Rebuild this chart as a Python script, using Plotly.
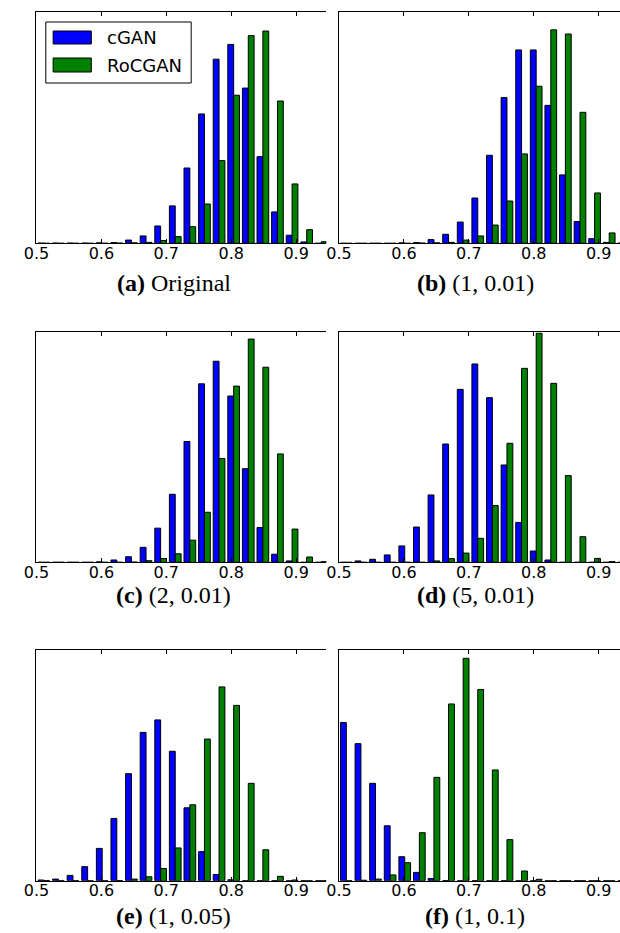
import plotly.graph_objects as go

# ---------------- data ----------------
bin_centers = [0.51125, 0.53375, 0.55625, 0.57875, 0.60125, 0.62375, 0.64625,
               0.66875, 0.69125, 0.71375, 0.73625, 0.75875, 0.78125, 0.80375,
               0.82625, 0.84875, 0.87125, 0.89375, 0.91625, 0.93875]

series_names = ["cGAN", "RoCGAN"]
series_colors = ["#0000ff", "#008000"]

cgan_a = [0.1, 0.1, 0.1, 0.1, 0.2, 0.3, 1.4, 3.2, 7.5, 16.2, 32.6, 56.0, 79.7, 86.1, 67.2, 37.5, 13.6, 3.5, 0.6, 0.0]
rocgan_a = [0.0, 0.0, 0.0, 0.0, 0.0, 0.1, 0.2, 0.4, 1.2, 2.9, 7.2, 17.0, 35.8, 64.1, 89.9, 91.9, 61.6, 25.7, 5.9, 0.7]

cgan_b = [0.0, 0.0, 0.0, 0.0, 0.2, 0.3, 1.6, 3.9, 9.2, 19.6, 38.1, 63.1, 83.7, 83.7, 59.7, 29.6, 9.4, 2.0, 0.4, 0.1]
rocgan_b = [0.0, 0.0, 0.0, 0.0, 0.0, 0.1, 0.2, 0.4, 1.4, 3.2, 7.9, 18.3, 38.7, 68.0, 92.4, 90.6, 56.7, 21.8, 4.5, 0.7]

cgan_c = [0.0, 0.0, 0.0, 0.0, 0.2, 1.0, 2.4, 6.5, 14.8, 29.5, 52.4, 77.4, 87.2, 72.1, 40.6, 15.1, 3.5, 0.6, 0.0, 0.0]
rocgan_c = [0.0, 0.0, 0.0, 0.0, 0.0, 0.0, 0.1, 0.7, 1.6, 3.7, 9.6, 21.7, 45.0, 76.4, 96.8, 84.6, 47.0, 14.4, 2.3, 0.3]

cgan_d = [0.0, 0.6, 1.3, 3.2, 7.1, 15.3, 29.2, 51.3, 75.0, 86.0, 71.4, 42.2, 17.3, 4.9, 1.0, 0.0, 0.0, 0.0, 0.0, 0.0]
rocgan_d = [0.0, 0.0, 0.0, 0.0, 0.0, 0.0, 0.6, 1.6, 4.0, 10.4, 24.6, 51.6, 84.1, 99.3, 77.6, 37.6, 11.1, 1.7, 0.3, 0.0]

cgan_e = [0.3, 0.7, 2.3, 6.1, 14.0, 27.0, 46.4, 64.3, 69.7, 56.1, 31.6, 12.6, 2.7, 0.4, 0.0, 0.0, 0.0, 0.0, 0.0, 0.0]
rocgan_e = [0.1, 0.0, 0.0, 0.0, 0.0, 0.1, 0.7, 1.7, 5.3, 14.2, 32.9, 61.4, 84.0, 76.0, 42.2, 13.4, 1.9, 0.3, 0.0, 0.0]

cgan_f = [68.6, 59.4, 42.2, 23.8, 10.4, 3.6, 0.9, 0.1, 0.0, 0.0, 0.0, 0.0, 0.0, 0.0, 0.0, 0.0, 0.0, 0.0, 0.0, 0.0]
rocgan_f = [0.0, 0.2, 0.7, 2.5, 7.8, 20.8, 44.8, 76.6, 96.4, 82.9, 48.0, 17.8, 4.2, 0.6, 0.0, 0.0, 0.0, 0.0, 0.0, 0.0]

panel_letters = ["a", "b", "c", "d", "e", "f"]
panel_titles = ["Original", "(1, 0.01)", "(2, 0.01)", "(5, 0.01)", "(1, 0.05)", "(1, 0.1)"]
panel_data = [(cgan_a, rocgan_a), (cgan_b, rocgan_b), (cgan_c, rocgan_c),
              (cgan_d, rocgan_d), (cgan_e, rocgan_e), (cgan_f, rocgan_f)]

tick_vals = [0.5, 0.6, 0.7, 0.8, 0.9]
tick_text = ["0.5", "0.6", "0.7", "0.8", "0.9"]

# ---------------- layout geometry (pixels) ----------------
W, H = 620, 933
col_px = [(24, 320), (333, 620)]
px_per_unit = 663.0          # pixels per 1.0 on the x axis
row_px = [(12.3, 243.3), (331.7, 562.3), (650.0, 880.7)]
caption_y = [283, 595, 916]
caption_x = [164, 472]


def fx(x):
    return x / W


def fy(y):
    return 1 - y / H


fig = go.Figure()
layout_axes = {}
annotations = []

for i in range(6):
    r, c = divmod(i, 2)
    n = i + 1
    xa = "x" if n == 1 else f"x{n}"
    ya = "y" if n == 1 else f"y{n}"
    blue, green = panel_data[i]
    for s, vals in enumerate((blue, green)):
        fig.add_trace(go.Bar(
            x=bin_centers, y=vals, name=series_names[s],
            marker=dict(color=series_colors[s], line=dict(color="#000000", width=1)),
            xaxis=xa, yaxis=ya, showlegend=False, offsetgroup=str(s),
        ))
    x0, x1 = col_px[c]
    y0, y1 = row_px[r]
    xkey = "xaxis" if n == 1 else f"xaxis{n}"
    ykey = "yaxis" if n == 1 else f"yaxis{n}"
    layout_axes[xkey] = dict(
        type="linear",
        domain=[fx(x0), fx(x1)], anchor=ya,
        range=[0.5, 0.5 + (x1 - x0) / px_per_unit],
        tickmode="array", tickvals=tick_vals, ticktext=tick_text,
        ticks="inside", ticklen=4, tickwidth=1, tickcolor="#000000",
        ticklabelstandoff=-5,
        showline=True, linecolor="#000000", linewidth=1, mirror="ticks",
        showgrid=False, zeroline=False,
        tickfont=dict(family="DejaVu Sans", size=16, color="#000000"),
        fixedrange=True,
    )
    layout_axes[ykey] = dict(
        type="linear",
        domain=[fy(y1), fy(y0)], anchor=xa,
        range=[0, 100],
        showticklabels=False, ticks="",
        showline=True, linecolor="#000000", linewidth=1, mirror=False,
        showgrid=False, zeroline=False, fixedrange=True,
    )
    annotations.append(dict(
        x=fx(caption_x[c]), y=fy(caption_y[r]), xref="paper", yref="paper",
        xanchor="center", yanchor="middle", showarrow=False,
        text=f"<b>({panel_letters[i]})</b> {panel_titles[i]}",
        font=dict(family="Liberation Serif", size=24, color="#000000"),
    ))

# ---------------- legend (drawn in panel a) ----------------
shapes = [dict(type="rect", xref="paper", yref="paper",
               x0=fx(33.5), x1=fx(182), y0=fy(83), y1=fy(22),
               line=dict(color="#000000", width=1), fillcolor="#ffffff", layer="above")]
legend_rows = [(31, 44), (58, 72)]
for s, (ya0, ya1) in enumerate(legend_rows):
    shapes.append(dict(type="rect", xref="paper", yref="paper",
                       x0=fx(41), x1=fx(80), y0=fy(ya1), y1=fy(ya0),
                       line=dict(color="#000000", width=1),
                       fillcolor=series_colors[s], layer="above"))
    annotations.append(dict(
        x=fx(94), y=fy((ya0 + ya1) / 2), xref="paper", yref="paper",
        xanchor="left", yanchor="middle", showarrow=False,
        text=series_names[s],
        font=dict(family="DejaVu Sans", size=18, color="#000000"),
    ))

fig.update_layout(
    width=W, height=H,
    margin=dict(l=0, r=0, t=0, b=0),
    paper_bgcolor="#ffffff", plot_bgcolor="#ffffff",
    barmode="group", bargap=0.2, bargroupgap=0.0,
    showlegend=False,
    shapes=shapes, annotations=annotations,
    **layout_axes,
)

fig.write_html(
    "out.html",
    config={"displayModeBar": False, "staticPlot": True},
    post_script="document.body.style.margin='0px';document.body.style.overflow='hidden';",
)
